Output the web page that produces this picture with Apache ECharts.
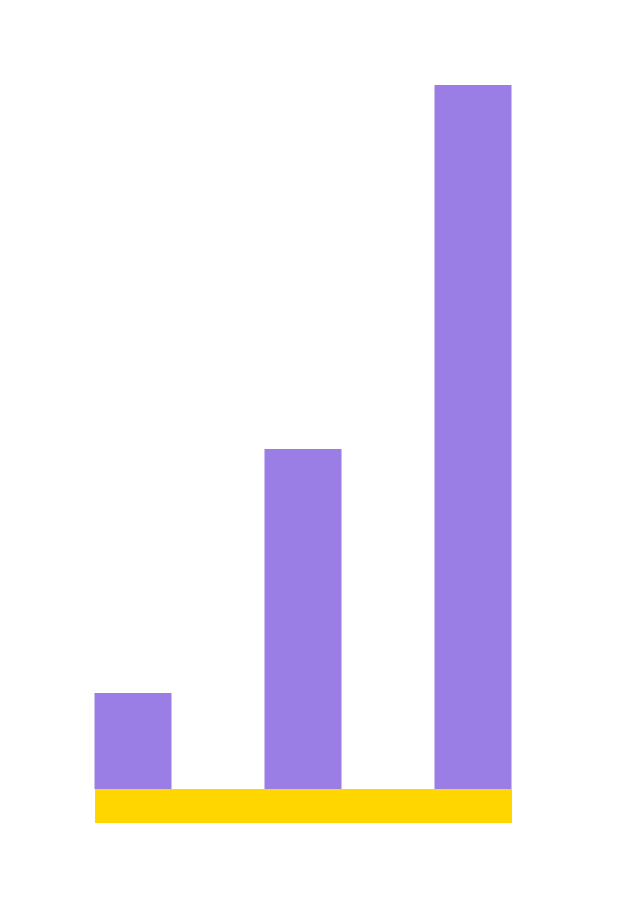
<!DOCTYPE html>
<html><head><meta charset="utf-8">
<script src="https://cdn.jsdelivr.net/npm/echarts@6/dist/echarts.min.js"></script>
<style>html,body{margin:0;padding:0;background:#fff}#c{width:640px;height:917px}</style>
</head><body><div id="c"></div>
<script>
const categories = ['2002', '2010', '2017'];
const values = [273, 966, 2000];
const valueLabels = ['$273 million', '$966m', '$2 billion total'];
const baseBand = [1];

const chart = echarts.init(document.getElementById('c'), null, {renderer: 'canvas'});
chart.setOption({
  backgroundColor: '#ffffff',
  animation: false,
  grid: [
    {left: 48, right: 82, top: 85, bottom: 128},
    {left: 95, right: 128, top: 789, height: 34}
  ],
  xAxis: [
    {type: 'category', data: categories, gridIndex: 0,
     axisLine: {show: false}, axisTick: {show: false},
     axisLabel: {color: '#ffffff', fontSize: 20, margin: 62, fontFamily: 'Roboto'}},
    {type: 'category', data: [''], gridIndex: 1, show: false}
  ],
  yAxis: [
    {type: 'value', gridIndex: 0, min: 0, max: values[2], show: false, splitLine: {show: false}},
    {type: 'value', gridIndex: 1, min: 0, max: 1, show: false}
  ],
  series: [
    {type: 'bar', xAxisIndex: 0, yAxisIndex: 0, data: values, barWidth: 77,
     itemStyle: {color: '#9b7de6'},
     label: {show: true, position: 'top', distance: 20, color: '#ffffff', fontSize: 24, fontFamily: 'Roboto',
       formatter: p => valueLabels[p.dataIndex]}},
    {type: 'bar', xAxisIndex: 1, yAxisIndex: 1, data: baseBand, barWidth: '100%',
     itemStyle: {color: '#ffd600'}}
  ]
});
</script></body></html>
